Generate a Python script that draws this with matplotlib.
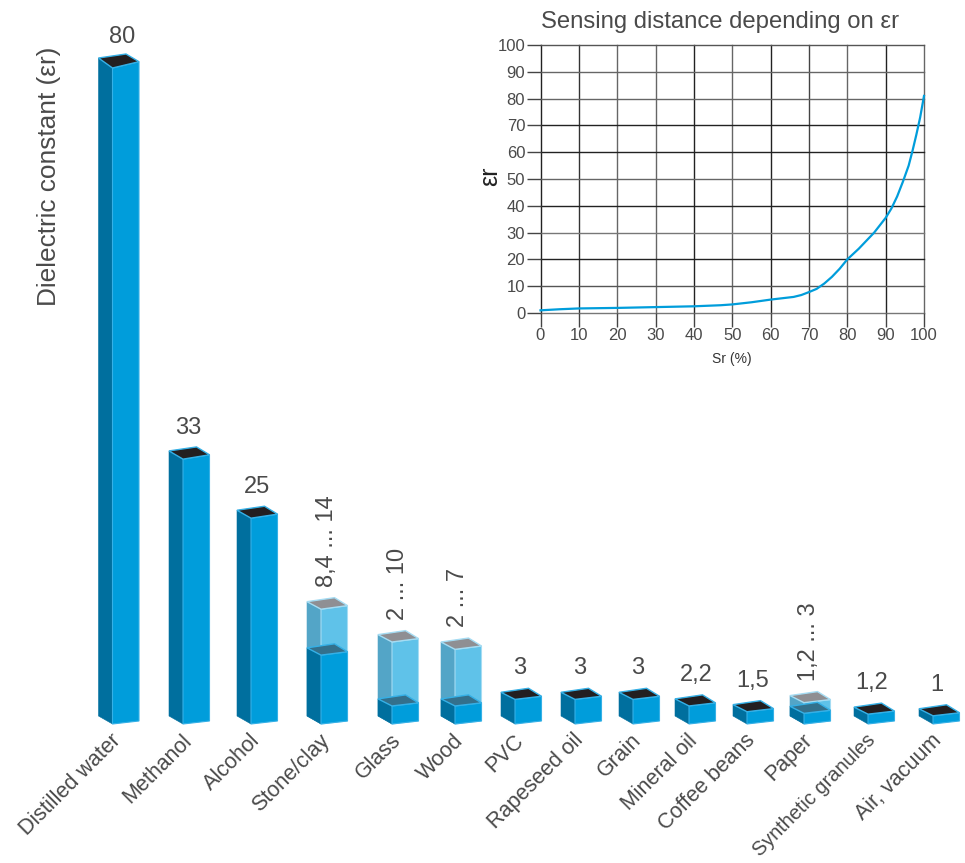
import numpy as np
import matplotlib
matplotlib.use('Agg')
import matplotlib.pyplot as plt

plt.rcParams['font.family'] = ['Liberation Sans', 'DejaVu Sans']

# bar data
materials = ['Distilled water', 'Methanol', 'Alcohol', 'Stone/clay', 'Glass', 'Wood', 'PVC',
             'Rapeseed oil', 'Grain', 'Mineral oil', 'Coffee beans', 'Paper',
             'Synthetic granules', 'Air, vacuum']
value_labels = ['80', '33', '25', '8,4 ... 14', '2 ... 10', '2 ... 7', '3', '3', '3', '2,2', '1,5',
                '1,2 ... 3', '1,2', '1']
solid_height = [80, 32.3, 25.1, 8.4, 2.2, 2.2, 3, 3, 3, 2.2, 1.5, 1.3, 1.2, 1]
range_height = [0, 0, 0, 14, 10, 9.1, 0, 0, 0, 0, 0, 2.6, 0, 0]

# inset curve
sr_percent = [0, 5, 10, 20, 30, 40, 47, 50, 55, 60, 63, 66, 68, 70, 72, 74, 76, 78, 80, 83, 85, 87,
              90, 91.5, 93, 94.5, 96, 97, 98, 99, 100]
eps_r = [1, 1.4, 1.7, 1.9, 2.2, 2.5, 2.9, 3.2, 4, 5, 5.5, 6, 6.7, 7.8, 9, 11, 13.5, 16.5, 20, 24,
         27, 30, 35.5, 39, 43.5, 49, 55, 60.5, 66.5, 73, 81]
grid_x_colors = ['#222222', '#333333', '#666666', '#666666', '#222222', '#666666', '#222222',
                 '#444444', '#666666', '#222222', '#666666']
grid_y_colors = ['#777777', '#555555', '#222222', '#777777', '#222222', '#666666', '#222222',
                 '#222222', '#666666', '#666666', '#555555']

# layout, pixels of the 965x863 figure
W, H = 965, 863
BASE_Y = 724
PX_PER_UNIT = 8.2
bar_left = [98.5, 169, 237, 307, 378, 441, 501, 561, 619, 675, 733, 790, 854, 919]
label_dx = [24, 19, 20, 20, 20, 17, 19, 19, 19, 21, 20, 19, 18, 18]
SIDE_W, FRONT_W = 14, 26.5

TEXT = '#4a4a4a'
FRONT, SIDE, TOP = '#009ddb', '#006f9e', '#231f20'
L_FRONT, L_SIDE, L_TOP = '#5fc2e9', '#53a5c7', '#8f8f93'
INNER_TOP = '#33708c'
EDGE, L_EDGE = '#35b0e6', '#a5dcf3'


def draw_block(ax, x0, h, front, side, top, edge, z):
    # h is in data units, the depth offsets are in pixels
    u = 1 / PX_PER_UNIT
    t = min(h / 80, 1)
    mid = x0 + SIDE_W
    right = mid + FRONT_W
    back = mid + 13.5
    dl, dr, db = 7 + 3 * t, 3 + 3.3 * t, 11 + 3 * t
    ax.fill([x0, mid, mid, x0], [8 * u, 0, h, h + dl * u], fc=side, ec=side, lw=0.4, zorder=z)
    ax.fill([mid, right, right, mid], [0, 3 * u, h + dr * u, h], fc=front, ec=edge, lw=0.8, zorder=z)
    ax.fill([x0, mid, right, back], [h + dl * u, h, h + dr * u, h + db * u],
            fc=top, ec=edge, lw=1.0, zorder=z + 0.5)


fig = plt.figure(figsize=(W / 100, H / 100), dpi=100)
ax = fig.add_axes([0, 0, 1, 1])
ax.set_xlim(0, W)
ax.set_ylim((BASE_Y - H) / PX_PER_UNIT, BASE_Y / PX_PER_UNIT)
ax.axis('off')

for i, name in enumerate(materials):
    x0 = bar_left[i]
    ranged = range_height[i] > 0
    if ranged:
        draw_block(ax, x0, range_height[i], L_FRONT, L_SIDE, L_TOP, L_EDGE, 2)
    draw_block(ax, x0, solid_height[i], FRONT, SIDE, INNER_TOP if ranged else TOP, EDGE, 3)

    top = max(solid_height[i], range_height[i])
    cx = x0 + label_dx[i]
    if ranged:
        ax.text(cx, top + 22 / PX_PER_UNIT, value_labels[i], rotation=90, ha='center', va='bottom',
                fontsize=17, color=TEXT)
    else:
        ax.text(cx, top + 31 / PX_PER_UNIT, value_labels[i], ha='center', va='center',
                fontsize=17, color=TEXT)
    # the long label would run off the bottom edge
    fs = 14.4 if name == 'Synthetic granules' else 15.5
    ax.text(x0 + 12, -6 / PX_PER_UNIT, name, rotation=45, ha='right', va='top',
            rotation_mode='anchor', fontsize=fs, color=TEXT)

ax.text(49, (BASE_Y - 176) / PX_PER_UNIT, 'Dielectric constant (εr)', rotation=90,
        ha='center', va='center', fontsize=18.9, color=TEXT)

# inset
x_a, x_b, y_t, y_b = 540.5, 924, 45, 313
inset = fig.add_axes([x_a / W, 1 - y_b / H, (x_b - x_a) / W, (y_b - y_t) / H])
inset.patch.set_alpha(0)
inset.set_xlim(0, 100)
inset.set_ylim(0, 100)
ticks = np.arange(0, 101, 10)
inset.set_xticks(ticks)
inset.set_yticks(ticks)
for v, c in zip(ticks, grid_x_colors):
    inset.axvline(v, color=c, lw=1.0, clip_on=False, zorder=1)
for v, c in zip(ticks, grid_y_colors):
    inset.axhline(v, color=c, lw=1.0, clip_on=False, zorder=1)
for s in inset.spines.values():
    s.set_visible(False)
inset.plot(sr_percent, eps_r, color='#009ddb', lw=1.6, zorder=3, clip_on=False)
inset.tick_params(length=10, width=1, color='#444444', labelcolor=TEXT, labelsize=12, pad=1)
inset.set_title('Sensing distance depending on εr', fontsize=17.2, color=TEXT, pad=12, x=0.467)
inset.set_xlabel('Sr (%)', fontsize=10, color='#333333', labelpad=6)
inset.set_ylabel('εr', fontsize=18, color='#222222', labelpad=-3, y=0.51)

fig.savefig('out.png', dpi=100)
